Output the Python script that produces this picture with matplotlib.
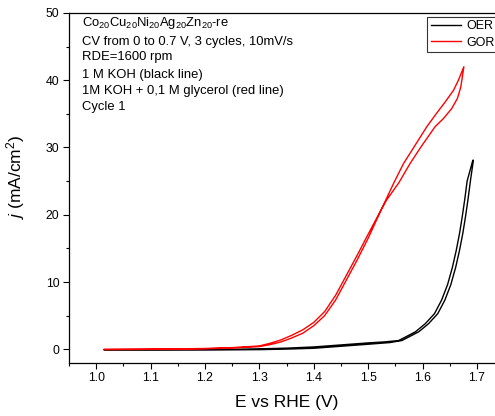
import matplotlib
matplotlib.use("Agg")
import matplotlib.pyplot as plt
from matplotlib.ticker import MultipleLocator

plt.rcParams['font.family'] = ['Liberation Sans', 'DejaVu Sans']
plt.rcParams['mathtext.fontset'] = 'custom'
plt.rcParams['mathtext.rm'] = 'Liberation Sans'
plt.rcParams['mathtext.it'] = 'Liberation Sans:italic'

# OER (1 M KOH), forward and backward scan
oer_fwd_E = [1.015, 1.10, 1.20, 1.25, 1.30, 1.35, 1.40, 1.45, 1.50, 1.53, 1.556,
             1.568, 1.587, 1.605, 1.622, 1.635, 1.646, 1.655, 1.662, 1.668,
             1.673, 1.6775, 1.682, 1.6925]
oer_fwd_j = [-0.05, -0.05, -0.03, 0.0, 0.07, 0.17, 0.35, 0.65, 0.95, 1.1, 1.3,
             1.8, 2.6, 3.8, 5.3, 7.3, 9.6, 12.2, 14.7, 17.2,
             19.7, 22.2, 25.0, 28.1]
oer_bwd_E = [1.6935, 1.688, 1.6835, 1.679, 1.674, 1.668, 1.661, 1.652, 1.641,
             1.628, 1.611, 1.593, 1.574, 1.562, 1.54, 1.50, 1.45, 1.40, 1.35,
             1.30, 1.25, 1.20, 1.10, 1.015]
oer_bwd_j = [28.1, 25.0, 22.2, 19.7, 17.2, 14.7, 12.2, 9.6, 7.3,
             5.3, 3.8, 2.6, 1.8, 1.3, 1.0, 0.75, 0.45, 0.15, 0.03,
             -0.05, -0.08, -0.08, -0.08, -0.08]

# GOR (1 M KOH + 0,1 M glycerol), forward and backward scan
gor_fwd_E = [1.015, 1.10, 1.20, 1.25, 1.30, 1.32, 1.34, 1.36, 1.38, 1.40, 1.42,
             1.44, 1.46, 1.48, 1.50, 1.525, 1.547, 1.565, 1.583, 1.608, 1.626,
             1.642, 1.657, 1.666, 1.676]
gor_fwd_j = [-0.05, 0.0, 0.08, 0.18, 0.4, 0.7, 1.1, 1.7, 2.4, 3.5, 5.0,
             7.3, 10.3, 13.3, 16.5, 20.9, 24.7, 27.6, 29.9, 33.1, 35.1,
             36.8, 38.5, 40.0, 42.0]
gor_bwd_E = [1.676, 1.6704, 1.6642, 1.6538, 1.6385, 1.6232, 1.5956, 1.577, 1.556,
             1.534, 1.525, 1.50, 1.48, 1.46, 1.44, 1.42, 1.40, 1.38, 1.36, 1.34,
             1.32, 1.30, 1.25, 1.20, 1.10, 1.015]
gor_bwd_j = [42.0, 39.0, 37.3, 35.8, 34.3, 33.1, 29.9, 27.6, 24.7,
             22.2, 20.9, 17.1, 14.0, 11.0, 8.0, 5.6, 4.0, 2.9, 2.1, 1.4,
             0.9, 0.5, 0.25, 0.12, 0.02, 0.0]

notes = [r'Co$_{20}$Cu$_{20}$Ni$_{20}$Ag$_{20}$Zn$_{20}$-re',
         'CV from 0 to 0.7 V, 3 cycles, 10mV/s',
         'RDE=1600 rpm',
         '1 M KOH (black line)',
         '1M KOH + 0,1 M glycerol (red line)',
         'Cycle 1']
notes_y = [0.971, 0.917, 0.874, 0.823, 0.777, 0.731]

fig = plt.figure(figsize=(4.95, 4.16), dpi=100)
ax = fig.add_axes([0.1394, 0.128, 0.879, 0.841])

ax.plot(oer_fwd_E + oer_bwd_E, oer_fwd_j + oer_bwd_j, color='black', lw=1.0,
        label='OER', solid_joinstyle='round')
ax.plot(gor_fwd_E + gor_bwd_E, gor_fwd_j + gor_bwd_j, color='red', lw=1.0,
        label='GOR', solid_joinstyle='round')

ax.set_xlim(0.95, 1.75)
ax.set_ylim(-2, 50)
ax.xaxis.set_major_locator(MultipleLocator(0.1))
ax.xaxis.set_minor_locator(MultipleLocator(0.05))
ax.yaxis.set_major_locator(MultipleLocator(10))
ax.yaxis.set_minor_locator(MultipleLocator(5))
ax.tick_params(which='major', direction='out', length=4, width=0.8, labelsize=8.8, pad=3)
ax.tick_params(which='minor', direction='out', length=2.2, width=0.8)
for sp in ax.spines.values():
    sp.set_linewidth(0.9)

ax.set_xlabel('E vs RHE (V)', fontsize=12.5)
ax.set_ylabel(r'$j$ (mA/cm$^2$)', fontsize=12.5)
ax.xaxis.set_label_coords(0.5, -0.093)
ax.yaxis.set_label_coords(-0.097, 0.532)

for t, yy in zip(notes, notes_y):
    ax.text(0.030, yy, t, transform=ax.transAxes, fontsize=9.4, va='center', ha='left')

leg = ax.legend(loc='upper left', bbox_to_anchor=(0.8237, 0.988), borderaxespad=0,
                fontsize=9, frameon=True, fancybox=False, edgecolor='black',
                handlelength=2.4, handletextpad=0.5, borderpad=0.25, labelspacing=0.35)
leg.get_frame().set_linewidth(0.8)

fig.savefig('out.png', dpi=100)
